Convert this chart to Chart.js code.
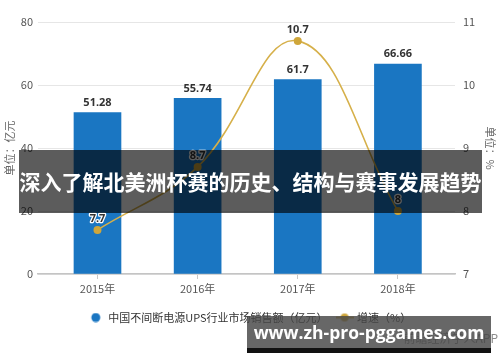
<!DOCTYPE html>
<html><head><meta charset="utf-8">
<script src="https://cdn.jsdelivr.net/npm/chart.js@4/dist/chart.umd.min.js"></script>
<style>
html,body{margin:0;padding:0;background:#fff;}
#wrap{position:relative;width:500px;height:362px;overflow:hidden;}
canvas{display:block;}
.banner{position:absolute;left:19px;top:150px;width:463px;height:63px;background:rgba(0,0,0,0.64);color:#fff;font:bold 21px "Noto Sans CJK SC";line-height:63px;text-align:center;white-space:nowrap;}
.app{position:absolute;right:2px;top:329px;color:#8a8a8a;font:12px "Noto Sans CJK SC";white-space:nowrap;}
.wm{position:absolute;left:247px;top:316px;width:244px;height:32px;background:rgba(70,70,70,0.82);}
.wmtext{position:absolute;left:247px;top:316px;width:244px;height:32px;color:#fff;font:bold 17.5px "Open Sans";line-height:32px;text-align:center;white-space:nowrap;}
.wmbar{position:absolute;left:247px;top:348px;width:244px;height:5px;background:#111;}
</style></head><body>
<div id="wrap"><canvas id="c" width="500" height="362"></canvas>
<div class="banner">深入了解北美洲杯赛的历史、结构与赛事发展趋势</div>
<div class="app">前瞻经济学人APP</div>
<div class="wm"></div>
<div class="wmtext">www.zh-pro-pggames.com</div>
<div class="wmbar"></div>
</div>
<script>
const categories = ['2015年', '2016年', '2017年', '2018年'];
const salesValues = [51.28, 55.74, 61.7, 66.66];
const growthValues = [7.7, 8.7, 10.7, 8];
const leftTicks = [0, 20, 40, 60, 80];
const rightTicks = [7, 8, 9, 10, 11];
const seriesNames = ['中国不间断电源UPS行业市场销售额（亿元）', '增速（%）'];
const axisTitles = ['单位：亿元', '单位：%'];

const BLUE = '#1a76c2';
const GOLD = '#d6b04a';
const GOLD_PT = '#cfa63a';

function makeMarker(kind) {
  const cv = document.createElement('canvas');
  cv.width = 18; cv.height = 10;
  const g = cv.getContext('2d');
  if (kind === 'circle') {
    g.fillStyle = BLUE;
    g.beginPath(); g.arc(9, 5, 4.5, 0, Math.PI * 2); g.fill();
  } else {
    g.strokeStyle = GOLD; g.lineWidth = 2;
    g.beginPath(); g.moveTo(0, 5); g.lineTo(18, 5); g.stroke();
    g.fillStyle = GOLD_PT;
    g.beginPath(); g.arc(9, 5, 4, 0, Math.PI * 2); g.fill();
  }
  return cv;
}
const markers = [makeMarker('circle'), makeMarker('line')];

const valueLabels = {
  id: 'valueLabels',
  afterDatasetsDraw(chart) {
    const ctx = chart.ctx;
    ctx.save();
    ctx.textAlign = 'center';
    ctx.textBaseline = 'middle';
    chart.data.datasets.forEach((ds, di) => {
      const meta = chart.getDatasetMeta(di);
      meta.data.forEach((el, i) => {
        const v = ds.data[i].y;
        const txt = String(v);
        ctx.font = 'bold 11px "Noto Sans"';
        if (ds.type === 'bar') {
          ctx.fillStyle = '#333';
          ctx.fillText(txt, el.x, el.y - 10);
        } else {
          ctx.lineWidth = 2.5;
          ctx.strokeStyle = '#fff';
          ctx.lineJoin = 'round';
          ctx.strokeText(txt, el.x, el.y - 11);
          ctx.fillStyle = '#333';
          ctx.fillText(txt, el.x, el.y - 11);
        }
      });
    });
    ctx.restore();
  }
};

const tickFont = { family: '"Noto Sans CJK SC"', size: 11 };

new Chart(document.getElementById('c'), {
  data: {
    datasets: [
      {
        type: 'line',
        label: seriesNames[1],
        data: growthValues.map((v, i) => ({ x: i, y: v })),
        yAxisID: 'y1',
        borderColor: GOLD,
        borderWidth: 1.6,
        tension: 0.4,
        pointRadius: 4,
        pointBackgroundColor: GOLD_PT,
        pointBorderColor: GOLD_PT,
        pointBorderWidth: 0,
        fill: false,
        order: 0
      },
      {
        type: 'bar',
        label: seriesNames[0],
        data: salesValues.map((v, i) => ({ x: i, y: v })),
        yAxisID: 'y',
        backgroundColor: BLUE,
        barThickness: 47,
        order: 1
      }
    ]
  },
  options: {
    responsive: false,
    animation: false,
    devicePixelRatio: 1,
    layout: { padding: { top: 22, left: 0, right: 0, bottom: 29 } },
    plugins: {
      tooltip: { enabled: false },
      legend: {
        position: 'bottom',
        labels: {
          usePointStyle: true,
          pointStyleWidth: 14,
          padding: 10,
          color: '#333',
          font: { family: '"Noto Sans CJK SC"', size: 11 },
          generateLabels() {
            return [
              { text: seriesNames[0], pointStyle: markers[0], datasetIndex: 1, fillStyle: BLUE, strokeStyle: BLUE, lineWidth: 0, hidden: false, fontColor: '#333' },
              { text: seriesNames[1], pointStyle: markers[1], datasetIndex: 0, fillStyle: GOLD, strokeStyle: GOLD, lineWidth: 0, hidden: false, fontColor: '#333' }
            ];
          }
        }
      }
    },
    scales: {
      x: {
        type: 'linear',
        offset: false,
        min: -0.594,
        max: 3.57,
        afterBuildTicks(s) { s.ticks = categories.map((c, i) => ({ value: i })); },
        afterFit(s) { s.height = 28; },
        ticks: {
          callback: (v) => categories[v],
          color: '#555',
          font: tickFont,
          padding: 3,
          autoSkip: false,
          maxRotation: 0
        },
        grid: { drawOnChartArea: false, drawTicks: true, tickLength: 5, color: '#c8c8c8', offset: false },
        border: { display: true, color: '#c4c4c4', width: 1.5 }
      },
      y: {
        position: 'left',
        min: 0,
        max: 80,
        afterBuildTicks(s) { s.ticks = leftTicks.map(v => ({ value: v })); },
        afterFit(s) { s.width = 38; },
        ticks: { color: '#555', font: tickFont, padding: 5 },
        grid: { color: '#e6e6e6', drawTicks: false, lineWidth: 1 },
        border: { display: false },
        title: { display: true, text: axisTitles[0], color: '#666', font: tickFont, padding: { top: 3, bottom: 0 } }
      },
      y1: {
        position: 'right',
        min: 7,
        max: 11,
        afterBuildTicks(s) { s.ticks = rightTicks.map(v => ({ value: v })); },
        afterFit(s) { s.width = 45; },
        ticks: { color: '#555', font: tickFont, padding: 8 },
        grid: { drawOnChartArea: false, drawTicks: false },
        border: { display: false },
        title: { display: true, text: axisTitles[1], color: '#666', font: tickFont, padding: { top: 3, bottom: 0 } }
      }
    }
  },
  plugins: [valueLabels]
});
</script>
</body></html>
